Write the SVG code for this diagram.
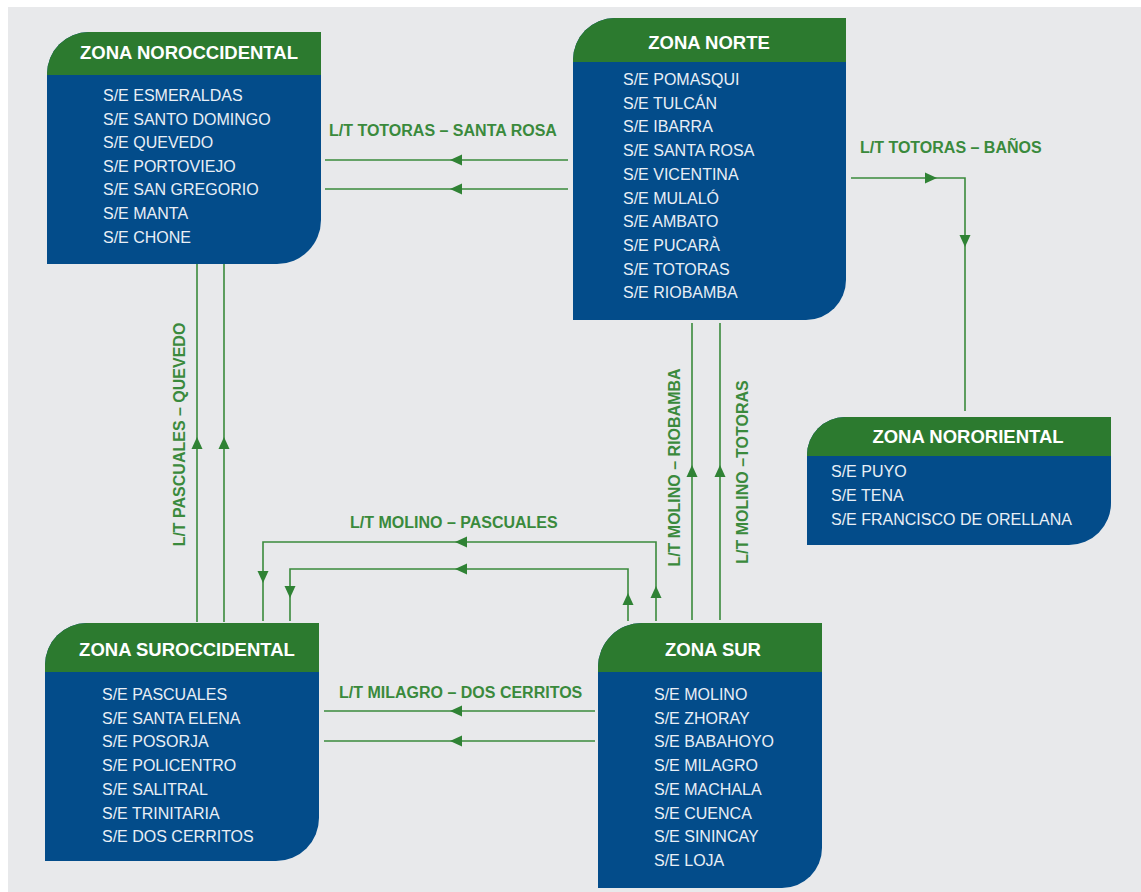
<svg xmlns="http://www.w3.org/2000/svg" xmlns:xlink="http://www.w3.org/1999/xlink" width="1141" height="892" viewBox="0 0 1141 892">
<style>
.body{fill:#034c8a}
.head{fill:#2c7a2f}
.ht{font-family:"Liberation Sans",Arial,sans-serif;font-weight:bold;font-size:18.5px;fill:#ffffff;text-anchor:middle}
.it{font-family:"Liberation Sans",Arial,sans-serif;font-size:16px;fill:#e9eff6}
.lbl{font-family:"Liberation Sans",Arial,sans-serif;font-weight:bold;font-size:16px;fill:#3a8a3c}
.ln{fill:none;stroke:#3a8a3c;stroke-width:1.6}
.ar{fill:#2f8234}
</style>
<defs>
<path id="ah" d="M0,0 L-12,-5.5 L-12,5.5 Z"/>
</defs>
<rect x="0" y="0" width="1141" height="892" fill="#ffffff"/>
<rect x="8" y="7" width="1133" height="885" fill="#e8e9eb"/>

<g id="connectors">
<path class="ln" d="M325,160 H568 M325,189 H568"/>
<path class="ln" d="M851,178 H965 V411"/>
<path class="ln" d="M197,264 V622 M224,264 V622"/>
<path class="ln" d="M692,323 V620 M720,323 V620"/>
<path class="ln" d="M656,621 V542 H263 V621"/>
<path class="ln" d="M628,621 V569 H290 V621"/>
<path class="ln" d="M324,711 H595 M324,741 H595"/>
<g class="ar">
<use xlink:href="#ah" transform="translate(450,160) rotate(180)"/>
<use xlink:href="#ah" transform="translate(450,189) rotate(180)"/>
<use xlink:href="#ah" transform="translate(937,178)"/>
<use xlink:href="#ah" transform="translate(965,247) rotate(90)"/>
<use xlink:href="#ah" transform="translate(197,437) rotate(-90)"/>
<use xlink:href="#ah" transform="translate(224,437) rotate(-90)"/>
<use xlink:href="#ah" transform="translate(692,465) rotate(-90)"/>
<use xlink:href="#ah" transform="translate(720,465) rotate(-90)"/>
<use xlink:href="#ah" transform="translate(455,542) rotate(180)"/>
<use xlink:href="#ah" transform="translate(455,569) rotate(180)"/>
<use xlink:href="#ah" transform="translate(263,583) rotate(90)"/>
<use xlink:href="#ah" transform="translate(290,598) rotate(90)"/>
<use xlink:href="#ah" transform="translate(628,593) rotate(-90)"/>
<use xlink:href="#ah" transform="translate(656,586) rotate(-90)"/>
<use xlink:href="#ah" transform="translate(450,711) rotate(180)"/>
<use xlink:href="#ah" transform="translate(450,741) rotate(180)"/>
</g>
<text class="lbl" x="329" y="136">L/T TOTORAS – SANTA ROSA</text>
<text class="lbl" x="860" y="153">L/T TOTORAS – BAÑOS</text>
<text class="lbl" x="350" y="528">L/T MOLINO – PASCUALES</text>
<text class="lbl" x="339" y="698">L/T MILAGRO – DOS CERRITOS</text>
<text class="lbl" text-anchor="middle" transform="translate(179,434.5) rotate(-90)" x="0" y="6">L/T PASCUALES – QUEVEDO</text>
<text class="lbl" text-anchor="middle" transform="translate(674,467.5) rotate(-90)" x="0" y="6">L/T MOLINO – RIOBAMBA</text>
<text class="lbl" text-anchor="middle" transform="translate(742,472) rotate(-90)" x="0" y="6">L/T MOLINO –TOTORAS</text>
</g>

<g id="zona-noroccidental">
<path class="body" d="M47,264 V74 A42,42 0 0 1 89,32 H321 V220 A44,44 0 0 1 277,264 Z"/>
<path class="head" d="M47,75 V74 A42,42 0 0 1 89,32 H321 V75 Z"/>
<text class="ht" x="189" y="58.5">ZONA NOROCCIDENTAL</text>
<text class="it" x="103" y="101">S/E ESMERALDAS</text>
<text class="it" x="103" y="124.6">S/E SANTO DOMINGO</text>
<text class="it" x="103" y="148.2">S/E QUEVEDO</text>
<text class="it" x="103" y="171.8">S/E PORTOVIEJO</text>
<text class="it" x="103" y="195.4">S/E SAN GREGORIO</text>
<text class="it" x="103" y="219">S/E MANTA</text>
<text class="it" x="103" y="242.6">S/E CHONE</text>
</g>

<g id="zona-norte">
<path class="body" d="M573,320 V60 A42,42 0 0 1 615,18 H846 V280 A40,40 0 0 1 806,320 Z"/>
<path class="head" d="M573,62 V60 A42,42 0 0 1 615,18 H846 V62 Z"/>
<text class="ht" x="709" y="48.5">ZONA NORTE</text>
<text class="it" x="623" y="85">S/E POMASQUI</text>
<text class="it" x="623" y="108.7">S/E TULCÁN</text>
<text class="it" x="623" y="132.4">S/E IBARRA</text>
<text class="it" x="623" y="156.1">S/E SANTA ROSA</text>
<text class="it" x="623" y="179.8">S/E VICENTINA</text>
<text class="it" x="623" y="203.5">S/E MULALÓ</text>
<text class="it" x="623" y="227.2">S/E AMBATO</text>
<text class="it" x="623" y="250.9">S/E PUCARÀ</text>
<text class="it" x="623" y="274.6">S/E TOTORAS</text>
<text class="it" x="623" y="298.3">S/E RIOBAMBA</text>
</g>

<g id="zona-nororiental">
<path class="body" d="M807,545 V455 A38,38 0 0 1 845,417 H1111 V503 A42,42 0 0 1 1069,545 Z"/>
<path class="head" d="M807,456 V455 A38,38 0 0 1 845,417 H1111 V456 Z"/>
<text class="ht" x="968" y="442.5">ZONA NORORIENTAL</text>
<text class="it" x="831" y="477">S/E PUYO</text>
<text class="it" x="831" y="501">S/E TENA</text>
<text class="it" x="831" y="525">S/E FRANCISCO DE ORELLANA</text>
</g>

<g id="zona-suroccidental">
<path class="body" d="M45,861 V665 A42,42 0 0 1 87,623 H319 V818 A43,43 0 0 1 276,861 Z"/>
<path class="head" d="M45,672 V665 A42,42 0 0 1 87,623 H319 V672 Z"/>
<text class="ht" x="187" y="655.5">ZONA SUROCCIDENTAL</text>
<text class="it" x="102" y="700">S/E PASCUALES</text>
<text class="it" x="102" y="723.7">S/E SANTA ELENA</text>
<text class="it" x="102" y="747.4">S/E POSORJA</text>
<text class="it" x="102" y="771.1">S/E POLICENTRO</text>
<text class="it" x="102" y="794.8">S/E SALITRAL</text>
<text class="it" x="102" y="818.5">S/E TRINITARIA</text>
<text class="it" x="102" y="842.2">S/E DOS CERRITOS</text>
</g>

<g id="zona-sur">
<path class="body" d="M598,888 V667 A44,44 0 0 1 642,623 H822 V848 A40,40 0 0 1 782,888 Z"/>
<path class="head" d="M598,672 V667 A44,44 0 0 1 642,623 H822 V672 Z"/>
<text class="ht" x="713" y="655.5">ZONA SUR</text>
<text class="it" x="654" y="700">S/E MOLINO</text>
<text class="it" x="654" y="723.7">S/E ZHORAY</text>
<text class="it" x="654" y="747.4">S/E BABAHOYO</text>
<text class="it" x="654" y="771.1">S/E MILAGRO</text>
<text class="it" x="654" y="794.8">S/E MACHALA</text>
<text class="it" x="654" y="818.5">S/E CUENCA</text>
<text class="it" x="654" y="842.2">S/E SININCAY</text>
<text class="it" x="654" y="865.9">S/E LOJA</text>
</g>
</svg>
